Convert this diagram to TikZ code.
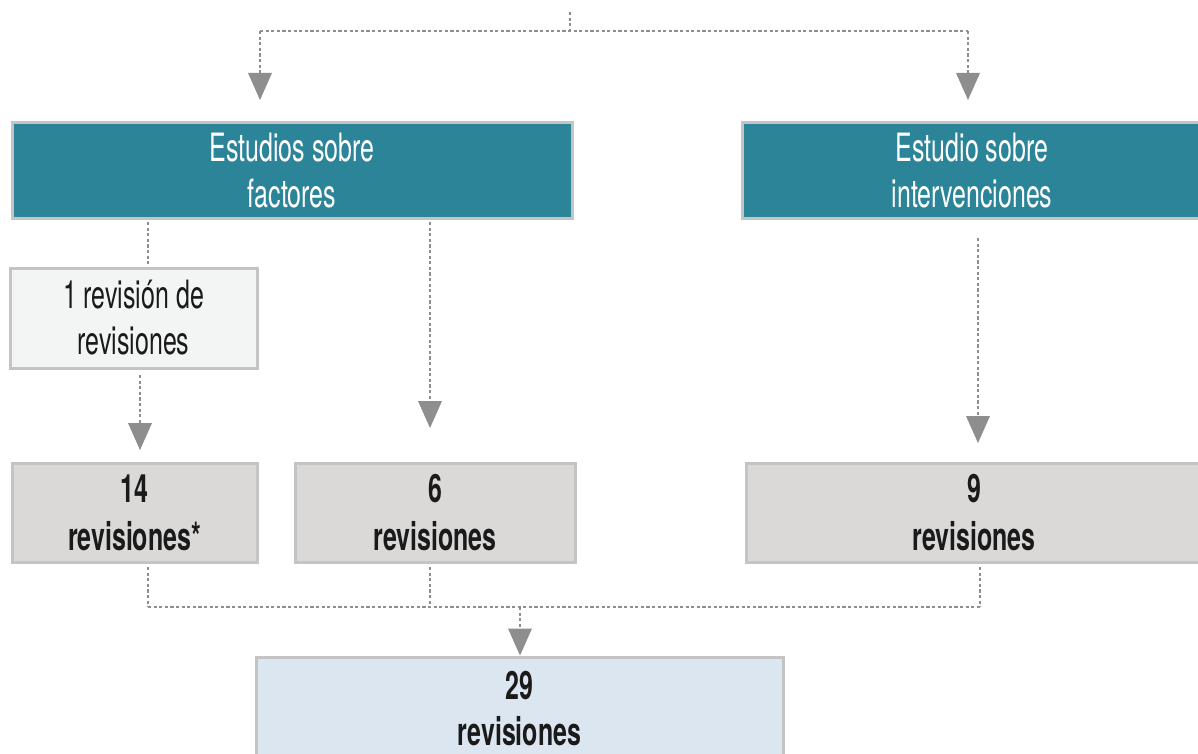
\documentclass[tikz,border=0pt]{standalone}
\usepackage{fontspec}
\setmainfont{TeX Gyre Heros}[FakeStretch=0.64]
\usetikzlibrary{arrows.meta}
\definecolor{teal1}{HTML}{2C8499}
\definecolor{grayfill}{HTML}{DAD9D8}
\definecolor{lightfill}{HTML}{F3F5F4}
\definecolor{bluefill}{HTML}{DCE6F1}
\definecolor{border}{HTML}{C4C4C4}
\definecolor{linec}{HTML}{8E8E8E}
\definecolor{txt}{HTML}{1A1A1A}
\tikzset{
  box/.style={draw=border, line width=1.5pt, rectangle, align=center, inner sep=0pt,
    font=\fontsize{19.5pt}{23pt}\selectfont},
  headbox/.style={box, fill=teal1, text=white},
  greybox/.style={box, fill=grayfill, text=txt, font=\fontsize{19.5pt}{24pt}\selectfont\bfseries},
  lightbox/.style={box, fill=lightfill, text=txt},
  bluebox/.style={box, fill=bluefill, text=txt, font=\fontsize{19.5pt}{23pt}\selectfont\bfseries},
  dl/.style={draw=linec, line width=0.9pt, dash pattern=on 1.6pt off 1.2pt},
  arr/.style={dl, -{Triangle[width=12pt,length=13.5pt,fill=linec,line width=0pt]}}
}
\begin{document}
\begin{tikzpicture}[x=0.5pt,y=-0.5pt]
\useasboundingbox (0,0) rectangle (1198,754);
\fill[white] (0,0) rectangle (1198,754);
% nodes
\node[headbox, minimum width=280pt, minimum height=48pt] (A) at (292,171) {Estudios sobre\\factores};
\node[headbox, minimum width=230pt, minimum height=48pt] (B) at (972,171) {Estudio sobre\\intervenciones};
\node[lightbox, minimum width=123.5pt, minimum height=50pt] (C) at (133.5,318) {1 revisión de\\revisiones};
\node[greybox, minimum width=122.5pt, minimum height=49.5pt] (D) at (134.5,512.5) {14\\revisiones*};
\node[greybox, minimum width=140pt, minimum height=49.5pt] (E) at (435,512.5) {6\\revisiones};
\node[greybox, minimum width=228pt, minimum height=49.5pt] (F) at (974,512.5) {9\\revisiones};
\node[bluebox, minimum width=263.5pt, minimum height=52pt] (G) at (519.5,709) {29\\revisiones};
% coordinates
\coordinate (t0) at (570,12);
\coordinate (t1) at (570,31);
\coordinate (tl) at (260,31);
\coordinate (tr) at (968,31);
\coordinate (tlE) at (260,100);
\coordinate (trE) at (968,100);
\coordinate (a1) at (148,222);
\coordinate (a2) at (430,222);
\coordinate (a2E) at (430,428);
\coordinate (c1) at (140,375);
\coordinate (c1E) at (140,450);
\coordinate (b1) at (978,238);
\coordinate (b1E) at (978,443);
\coordinate (d1) at (148,567);
\coordinate (e1) at (430,567);
\coordinate (f1) at (980,567);
\coordinate (jl) at (148,607);
\coordinate (jm) at (430,607);
\coordinate (jr) at (980,607);
\coordinate (g0) at (520,607);
% connectors
\draw[dl] (t0) -- (t1);
\draw[dl] (tl) -- (tr);
\draw[arr] (tl) -- (tlE);
\draw[arr] (tr) -- (trE);
\draw[dl] (a1) -- (a1 |- C.north);
\draw[arr] (a2) -- (a2E);
\draw[arr] (c1) -- (c1E);
\draw[arr] (b1) -- (b1E);
\draw[dl] (d1) -- (jl);
\draw[dl] (e1) -- (jm);
\draw[dl] (f1) -- (jr);
\draw[dl] (jl) -- (jr);
\draw[arr] (g0) -- (g0 |- G.north);
\end{tikzpicture}
\end{document}
